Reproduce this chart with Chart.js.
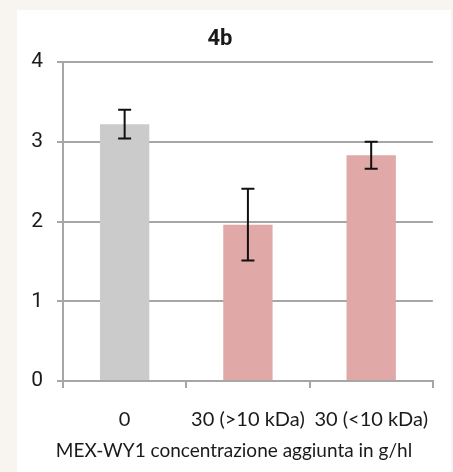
<!DOCTYPE html>
<html>
<head>
<meta charset="utf-8">
<script src="https://cdn.jsdelivr.net/npm/chart.js@4"></script>
<style>
  html, body { margin: 0; padding: 0; background: #f8f4ef; width: 453px; height: 472px; overflow: hidden; }
  #panel { position: absolute; left: 17px; top: 10px; width: 434px; height: 462px; background: #fff; }
  #chart { display: block; }
</style>
</head>
<body>
<div id="panel"><canvas id="chart" width="434" height="462"></canvas></div>
<script>
// data
const categories = ['0', '30 (>10 kDa)', '30 (<10 kDa)'];
const values = [3.22, 1.96, 2.83];
const errors = [0.18, 0.45, 0.17];
const barColors = ['#cbcbcb', '#e0a8a7', '#e0a8a7'];
const yTicks = [0, 1, 2, 3, 4];
const chartTitle = '4b';
const xAxisTitle = 'MEX-WY1 concentrazione aggiunta in g/hl';

const gridGray = '#a6a6a6';
const textColor = '#1a1a1a';

// draws the +/- error whiskers on top of the bars
const errorBars = {
    id: 'errorBars',
    afterDatasetsDraw(chart) {
        const ctx = chart.ctx;
        const yScale = chart.scales.y;
        const meta = chart.getDatasetMeta(0);
        ctx.save();
        ctx.strokeStyle = '#111';
        ctx.lineWidth = 2;
        meta.data.forEach((bar, i) => {
            const top = yScale.getPixelForValue(values[i] + errors[i]);
            const bottom = yScale.getPixelForValue(values[i] - errors[i]);
            const cap = 6.5;
            ctx.beginPath();
            ctx.moveTo(bar.x, top);
            ctx.lineTo(bar.x, bottom);
            ctx.moveTo(bar.x - cap, top);
            ctx.lineTo(bar.x + cap, top);
            ctx.moveTo(bar.x - cap, bottom);
            ctx.lineTo(bar.x + cap, bottom);
            ctx.stroke();
        });
        ctx.restore();
    }
};

// titles are centred on the whole panel, not on the plot, so draw them here
const titleText = {
    id: 'titleText',
    afterDraw(chart) {
        const ctx = chart.ctx;
        ctx.save();
        ctx.fillStyle = textColor;
        ctx.textAlign = 'center';
        ctx.textBaseline = 'middle';
        ctx.font = 'bold 22px Roboto';
        ctx.fillText(chartTitle, chart.width / 2 - 14, 29);
        ctx.font = '19px Lato';
        ctx.fillText(xAxisTitle, chart.width / 2, chart.height - 21);
        ctx.restore();
    }
};

const ctx = document.getElementById('chart').getContext('2d');
new Chart(ctx, {
    type: 'bar',
    data: {
        labels: categories,
        datasets: [{
            data: values,
            backgroundColor: barColors,
            borderWidth: 0,
            barPercentage: 0.4,
            categoryPercentage: 1.0
        }]
    },
    options: {
        responsive: false,
        animation: false,
        layout: {
            padding: { top: 52, right: 18, left: 0, bottom: 0 }
        },
        plugins: {
            legend: { display: false },
            tooltip: { enabled: false },
            title: { display: false }
        },
        scales: {
            x: {
                afterFit: scale => { scale.height = 91; },
                grid: {
                    drawOnChartArea: false,
                    drawTicks: true,
                    tickLength: 7,
                    color: gridGray,
                    lineWidth: 2,
                    offset: true
                },
                border: { color: gridGray, width: 2 },
                ticks: {
                    color: textColor,
                    font: { family: 'Lato', size: 20 },
                    padding: 20,
                    maxRotation: 0,
                    autoSkip: false
                }
            },
            y: {
                min: 0,
                max: 4,
                afterBuildTicks: scale => { scale.ticks = yTicks.map(v => ({ value: v })); },
                afterFit: scale => { scale.width = 46; },
                grid: {
                    color: gridGray,
                    lineWidth: 2,
                    tickLength: 6
                },
                border: { color: gridGray, width: 2 },
                ticks: {
                    color: textColor,
                    font: { family: 'Roboto', size: 21 },
                    padding: 14
                }
            }
        }
    },
    plugins: [errorBars, titleText]
});
</script>
</body>
</html>
